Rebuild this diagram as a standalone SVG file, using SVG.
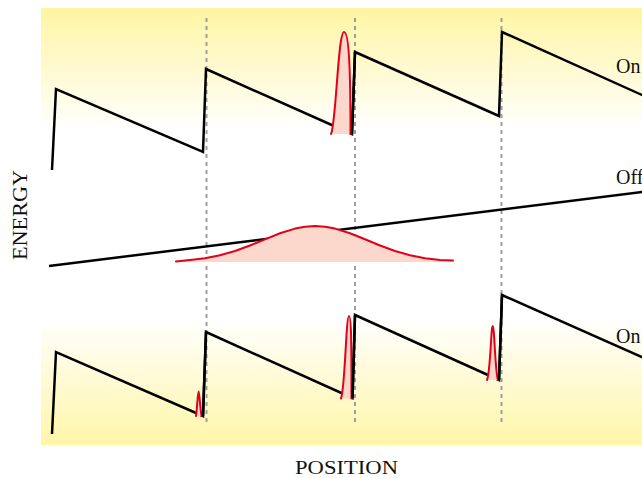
<svg xmlns="http://www.w3.org/2000/svg" width="642" height="478" viewBox="0 0 642 478">
  <defs>
    <linearGradient id="gTop" x1="0" y1="0" x2="0" y2="1">
      <stop offset="0" stop-color="#FFF5A3"/>
      <stop offset="1" stop-color="#FFFFFF"/>
    </linearGradient>
    <linearGradient id="gBot" x1="0" y1="0" x2="0" y2="1">
      <stop offset="0" stop-color="#FFFFFF"/>
      <stop offset="1" stop-color="#FFF6A8"/>
    </linearGradient>
    <style>
      .saw { fill: none; stroke: #000; stroke-width: 2.5; stroke-linejoin: miter; }
      .dash { fill: none; stroke: #9E9E9E; stroke-width: 2; stroke-dasharray: 4 4; }
      .pfill { fill: #FBD8CB; stroke: none; }
      .pline { fill: none; stroke: #E2001A; stroke-width: 2; stroke-linejoin: round; stroke-linecap: round; }
      .lbl { font-family: "Liberation Serif", "Times New Roman", serif; font-size: 20px; fill: #111; }
    </style>
  </defs>

  <g id="backgrounds">
    <rect x="41" y="8" width="601" height="122" fill="url(#gTop)"/>
    <rect x="41" y="318" width="601" height="127" fill="url(#gBot)"/>
  </g>

  <g id="connectors">
    <line class="dash" x1="206.5" y1="18" x2="206.5" y2="426"/>
    <line class="dash" x1="355" y1="18" x2="355" y2="426"/>
    <line class="dash" x1="501.5" y1="18" x2="501.5" y2="426"/>
  </g>

  <g id="top-on">
    <path class="saw" d="M52,170 L56,89 L203,152 L206,69 L352,134 L355,52 L499,116 L502,32 L662,104"/>
    <path class="pfill" d="M331,134 C336,125 338,32 344,32 C349,32 350.5,70 350.5,134 Z"/>
    <path class="pline" d="M331,134 C336,125 338,32 344,32 C349,32 350.5,70 350.5,134"/>
    <path class="saw" d="M352,134 L355,52"/>
    <text class="lbl" x="616" y="73">On</text>
  </g>

  <g id="middle-off">
    <path class="saw" d="M49,266 L662,189.5"/>
    <path class="pfill" d="M176,262 L176,261 L190,260 L205,258.2 L220,255.2 L235,251 L250,245.5 L265,239.3 L280,233.3 L295,228.6 L305,226.7 L315,226 L325,226.7 L335,228.6 L350,233.3 L365,239.3 L380,245.5 L395,251 L410,255.2 L425,258.2 L440,260 L453,260.9 L453,262 Z"/>
    <path class="pline" d="M176,261.5 L190,260 L205,258.2 L220,255.2 L235,251 L250,245.5 L265,239.3 L280,233.3 L295,228.6 L305,226.7 L315,226 L325,226.7 L335,228.6 L350,233.3 L365,239.3 L380,245.5 L395,251 L410,255.2 L425,258.2 L440,260 L453,260.6"/>
    <text class="lbl" x="616" y="184">Off</text>
  </g>

  <g id="bottom-on">
    <path class="saw" d="M52,434 L56,352 L203,416 L206,332 L352.5,398 L355,315 L499,380 L502,295 L662,366"/>
    <path class="pfill" d="M196,416 C197.5,405 197.8,391.5 198.6,391.5 C199.4,391.5 199.8,405 201.5,416 Z"/>
    <path class="pline" d="M196,416 C197.5,405 197.8,391.5 198.6,391.5 C199.4,391.5 199.8,405 201.5,416"/>
    <path class="pfill" d="M341,398.5 C345,390 346,316 349,316 C351.5,316 351.5,350 351.5,398.5 Z"/>
    <path class="pline" d="M341,398.5 C345,390 346,316 349,316 C351.5,316 351.5,350 351.5,398.5"/>
    <path class="pfill" d="M487,380 C490.5,372 491,326 492.7,326 C494.5,326 495,372 498,380 Z"/>
    <path class="pline" d="M487,380 C490.5,372 491,326 492.7,326 C494.5,326 495,372 498,380"/>
    <path class="saw" d="M203,416 L206,332 M352.5,398 L355,315 M499,380 L502,295"/>
    <text class="lbl" x="616" y="342.5">On</text>
  </g>

  <g id="axis-labels">
    <text class="lbl" x="346.5" y="473.5" style="font-size:19px" text-anchor="middle" textLength="103" lengthAdjust="spacingAndGlyphs">POSITION</text>
    <text class="lbl" transform="translate(27,215) rotate(-90)" x="0" y="0" text-anchor="middle" textLength="90" lengthAdjust="spacingAndGlyphs">ENERGY</text>
  </g>
</svg>
